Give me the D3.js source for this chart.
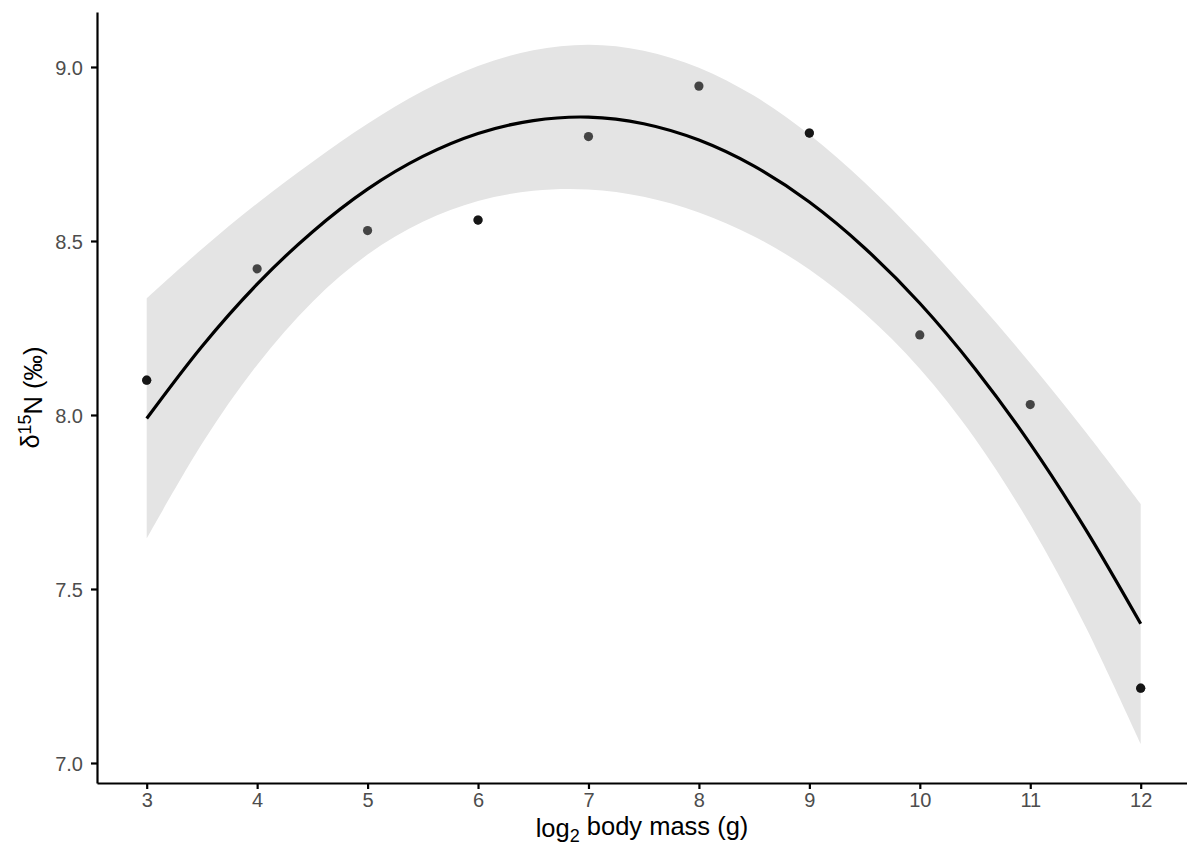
<!DOCTYPE html>
<html>
<head>
<meta charset="utf-8">
<script src="https://cdn.jsdelivr.net/npm/d3@7"></script>
<style>
  body { margin: 0; background: #fff; }
  text { font-family: "Liberation Sans", Arial, sans-serif; }
</style>
</head>
<body>
<svg id="chart" width="1187" height="847"></svg>
<script>
// Observations: log2 body mass (g) vs δ15N (‰); overlapping observations are listed twice
const massObs = [3, 3, 4, 5, 6, 6, 7, 8, 9, 9, 10, 11, 12, 12];
const d15NObs = [8.10, 8.10, 8.42, 8.53, 8.56, 8.56, 8.80, 8.945, 8.81, 8.81, 8.23, 8.03, 7.215, 7.215];

// Quadratic fit with its confidence band, sampled along body mass
const fitMass  = [3, 3.5, 4, 4.5, 5, 5.5, 6, 6.5, 7, 7.5, 8, 8.5, 9, 9.5, 10, 10.5, 11, 11.5, 12];
const fitMean  = [7.990, 8.197, 8.376, 8.526, 8.649, 8.743, 8.809, 8.846, 8.856, 8.837,
                  8.790, 8.715, 8.612, 8.480, 8.321, 8.133, 7.917, 7.672, 7.400];
const fitLower = [7.645, 7.917, 8.144, 8.325, 8.461, 8.555, 8.615, 8.644, 8.648, 8.627,
                  8.582, 8.513, 8.418, 8.292, 8.133, 7.932, 7.685, 7.392, 7.055];
const fitUpper = [8.335, 8.477, 8.608, 8.727, 8.837, 8.931, 9.003, 9.048, 9.064, 9.047,
                  8.998, 8.917, 8.806, 8.668, 8.509, 8.334, 8.149, 7.952, 7.745];

const xTicks = [3, 4, 5, 6, 7, 8, 9, 10, 11, 12];
const yTicks = [7.0, 7.5, 8.0, 8.5, 9.0];
const xDomain = [2.55, 12.45];
const yDomain = [6.9425, 9.158];

const svg = d3.select("#chart");
const panel = { left: 97, top: 12, right: 1190.4, bottom: 783 };

const x = d3.scaleLinear().domain(xDomain).range([panel.left, panel.right]);
const y = d3.scaleLinear().domain(yDomain).range([panel.bottom, panel.top]);

const band = fitMass.map((m, i) => ({ m, mean: fitMean[i], lo: fitLower[i], hi: fitUpper[i] }));

// confidence ribbon
svg.append("path")
  .datum(band)
  .attr("fill", "#e4e4e4")
  .attr("d", d3.area()
    .x(d => x(d.m))
    .y0(d => y(d.lo))
    .y1(d => y(d.hi))
    .curve(d3.curveCatmullRom.alpha(0)));

// observations (semi-transparent so overlaps read darker)
const obs = massObs.map((m, i) => ({ m, v: d15NObs[i] }));
svg.append("g")
  .selectAll("circle")
  .data(obs)
  .join("circle")
  .attr("cx", d => x(d.m))
  .attr("cy", d => y(d.v))
  .attr("r", 4.6)
  .attr("fill", "#000")
  .attr("fill-opacity", 0.7);

// fitted curve
svg.append("path")
  .datum(band)
  .attr("fill", "none")
  .attr("stroke", "#000")
  .attr("stroke-width", 3.2)
  .attr("stroke-linejoin", "round")
  .attr("d", d3.line()
    .x(d => x(d.m))
    .y(d => y(d.mean))
    .curve(d3.curveCatmullRom.alpha(0)));

// axes
const xAxis = svg.append("g")
  .attr("transform", `translate(0,${panel.bottom})`)
  .call(d3.axisBottom(x).tickValues(xTicks).tickSizeOuter(0).tickSizeInner(6).tickPadding(3)
        .tickFormat(d3.format("d")));
const yAxis = svg.append("g")
  .attr("transform", `translate(${panel.left},0)`)
  .call(d3.axisLeft(y).tickValues(yTicks).tickSizeOuter(0).tickSizeInner(6).tickPadding(8)
        .tickFormat(d3.format(".1f")));

[xAxis, yAxis].forEach(g => {
  g.select(".domain").attr("stroke", "#000").attr("stroke-width", 2.2);
  g.selectAll(".tick line").attr("stroke", "#000").attr("stroke-width", 2.2);
  g.selectAll(".tick text")
    .attr("fill", "#4d4d4d")
    .style("font-size", "20px")
    .style("font-family", '"Liberation Sans", Arial, sans-serif');
});
xAxis.selectAll(".tick text").attr("dy", "0.76em");
yAxis.selectAll(".tick text").attr("dy", "0.36em");

// x-axis title with subscript
const xt = svg.append("text")
  .attr("x", (panel.left + 1187) / 2)
  .attr("y", 837)
  .attr("text-anchor", "middle")
  .attr("fill", "#000")
  .style("font-size", "25.5px");
xt.append("tspan").text("log");
xt.append("tspan").attr("dy", "0.3em").style("font-size", "18px").text("2");
xt.append("tspan").attr("dy", "-0.3em").text(" body mass (g)");

// y-axis title with superscript
const yt = svg.append("text")
  .attr("transform", `translate(39,${(panel.top + panel.bottom) / 2}) rotate(-90)`)
  .attr("text-anchor", "middle")
  .attr("fill", "#000")
  .style("font-size", "25.5px");
yt.append("tspan").text("δ");
yt.append("tspan").attr("dy", "-0.45em").style("font-size", "18px").text("15");
yt.append("tspan").attr("dy", "0.45em").text("N (‰)");
</script>
</body>
</html>
